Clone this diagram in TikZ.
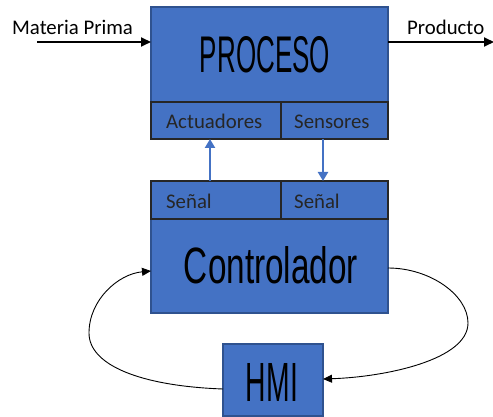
\documentclass[tikz,border=0pt]{standalone}
\usepackage{fontspec}
\setmainfont{Carlito}
\newfontfamily\bigfont{Liberation Sans}
\usetikzlibrary{arrows.meta}
\definecolor{boxblue}{HTML}{4472C4}
\definecolor{boxedge}{HTML}{2F528F}
\tikzset{
 blk/.style={draw=boxedge, fill=boxblue, line width=1.5pt, rectangle, inner sep=0pt, outer sep=0pt},
 cell/.style={draw=black!85, line width=1.3pt, rectangle, inner sep=0pt, outer sep=0pt},
 lbl/.style={font=\fontsize{20.8}{24}\selectfont, anchor=base west, inner sep=0pt, text=black!85},
 big/.style={inner sep=0pt, text=black},
 flow/.style={line width=1.8pt, -{Triangle[length=10pt,width=9pt]}},
 sig/.style={draw=boxblue, line width=2.4pt, -{Triangle[length=9pt,width=10pt]}},
 loopc/.style={line width=0.9pt, -{Triangle[length=9pt,width=8pt]}}
}
\begin{document}
\begin{tikzpicture}[x=1pt,y=-1pt]
\useasboundingbox (0,0) rectangle (493,417);
% PROCESO block
\node[blk, minimum width=237pt, minimum height=132pt] (proc) at (269.5,73) {};
\node[cell, minimum width=130pt, minimum height=37pt] (act) at (216,120.5) {};
\node[cell, minimum width=107pt, minimum height=37pt] (sen) at (334.5,120.5) {};
\node[big] (proct) at (265,55) {\resizebox{130pt}{36pt}{\bigfont PROCESO}};
\node[lbl] (actt) at (166,129) {Actuadores};
\node[lbl] (sent) at (294,129) {Sensores};
% Controlador block
\node[blk, minimum width=237pt, minimum height=132pt] (ctrl) at (269.5,247) {};
\node[cell, minimum width=130pt, minimum height=38pt] (s1) at (216,200) {};
\node[cell, minimum width=107pt, minimum height=38pt] (s2) at (334.5,200) {};
\node[big] (ctrlt) at (271,265.5) {\resizebox{174pt}{37pt}{\bigfont Controlador}};
\node[lbl] (s1t) at (166,208) {Señal};
\node[lbl] (s2t) at (294,208) {Señal};
% HMI
\node[blk, minimum width=100pt, minimum height=72pt] (hmi) at (273,380) {};
\node[big] (hmit) at (272,382) {\resizebox{52pt}{38pt}{\bigfont HMI}};
% inputs / outputs
\node[lbl, text=black] (mp) at (12,35) {Materia Prima};
\node[lbl, text=black] (pr) at (407,35) {Producto};
\coordinate (mpstart) at (37,42);
\coordinate (prend) at (494,42);
\draw[flow] (mpstart) -- (mpstart -| proc.west);
\draw[flow] (prend -| proc.east) -- (prend);
% signals
\draw[sig] ([xshift=-6pt]s1.north) -- ([xshift=-6pt]act.south);
\draw[sig] ([xshift=-11.5pt]sen.south) -- ([xshift=-11.5pt]s2.north);
% loop
\draw[loopc] ([yshift=-9pt]hmi.west) .. controls (140,386) and (89,365) .. (89,333)
  .. controls (89,300) and (118,274) .. ([yshift=-24pt]ctrl.west);
\draw[loopc] ([yshift=-21pt]ctrl.east) .. controls (430,268) and (468,295) .. (468,323)
  .. controls (468,360) and (385,377) .. ([yshift=1pt]hmi.east);
\end{tikzpicture}
\end{document}
